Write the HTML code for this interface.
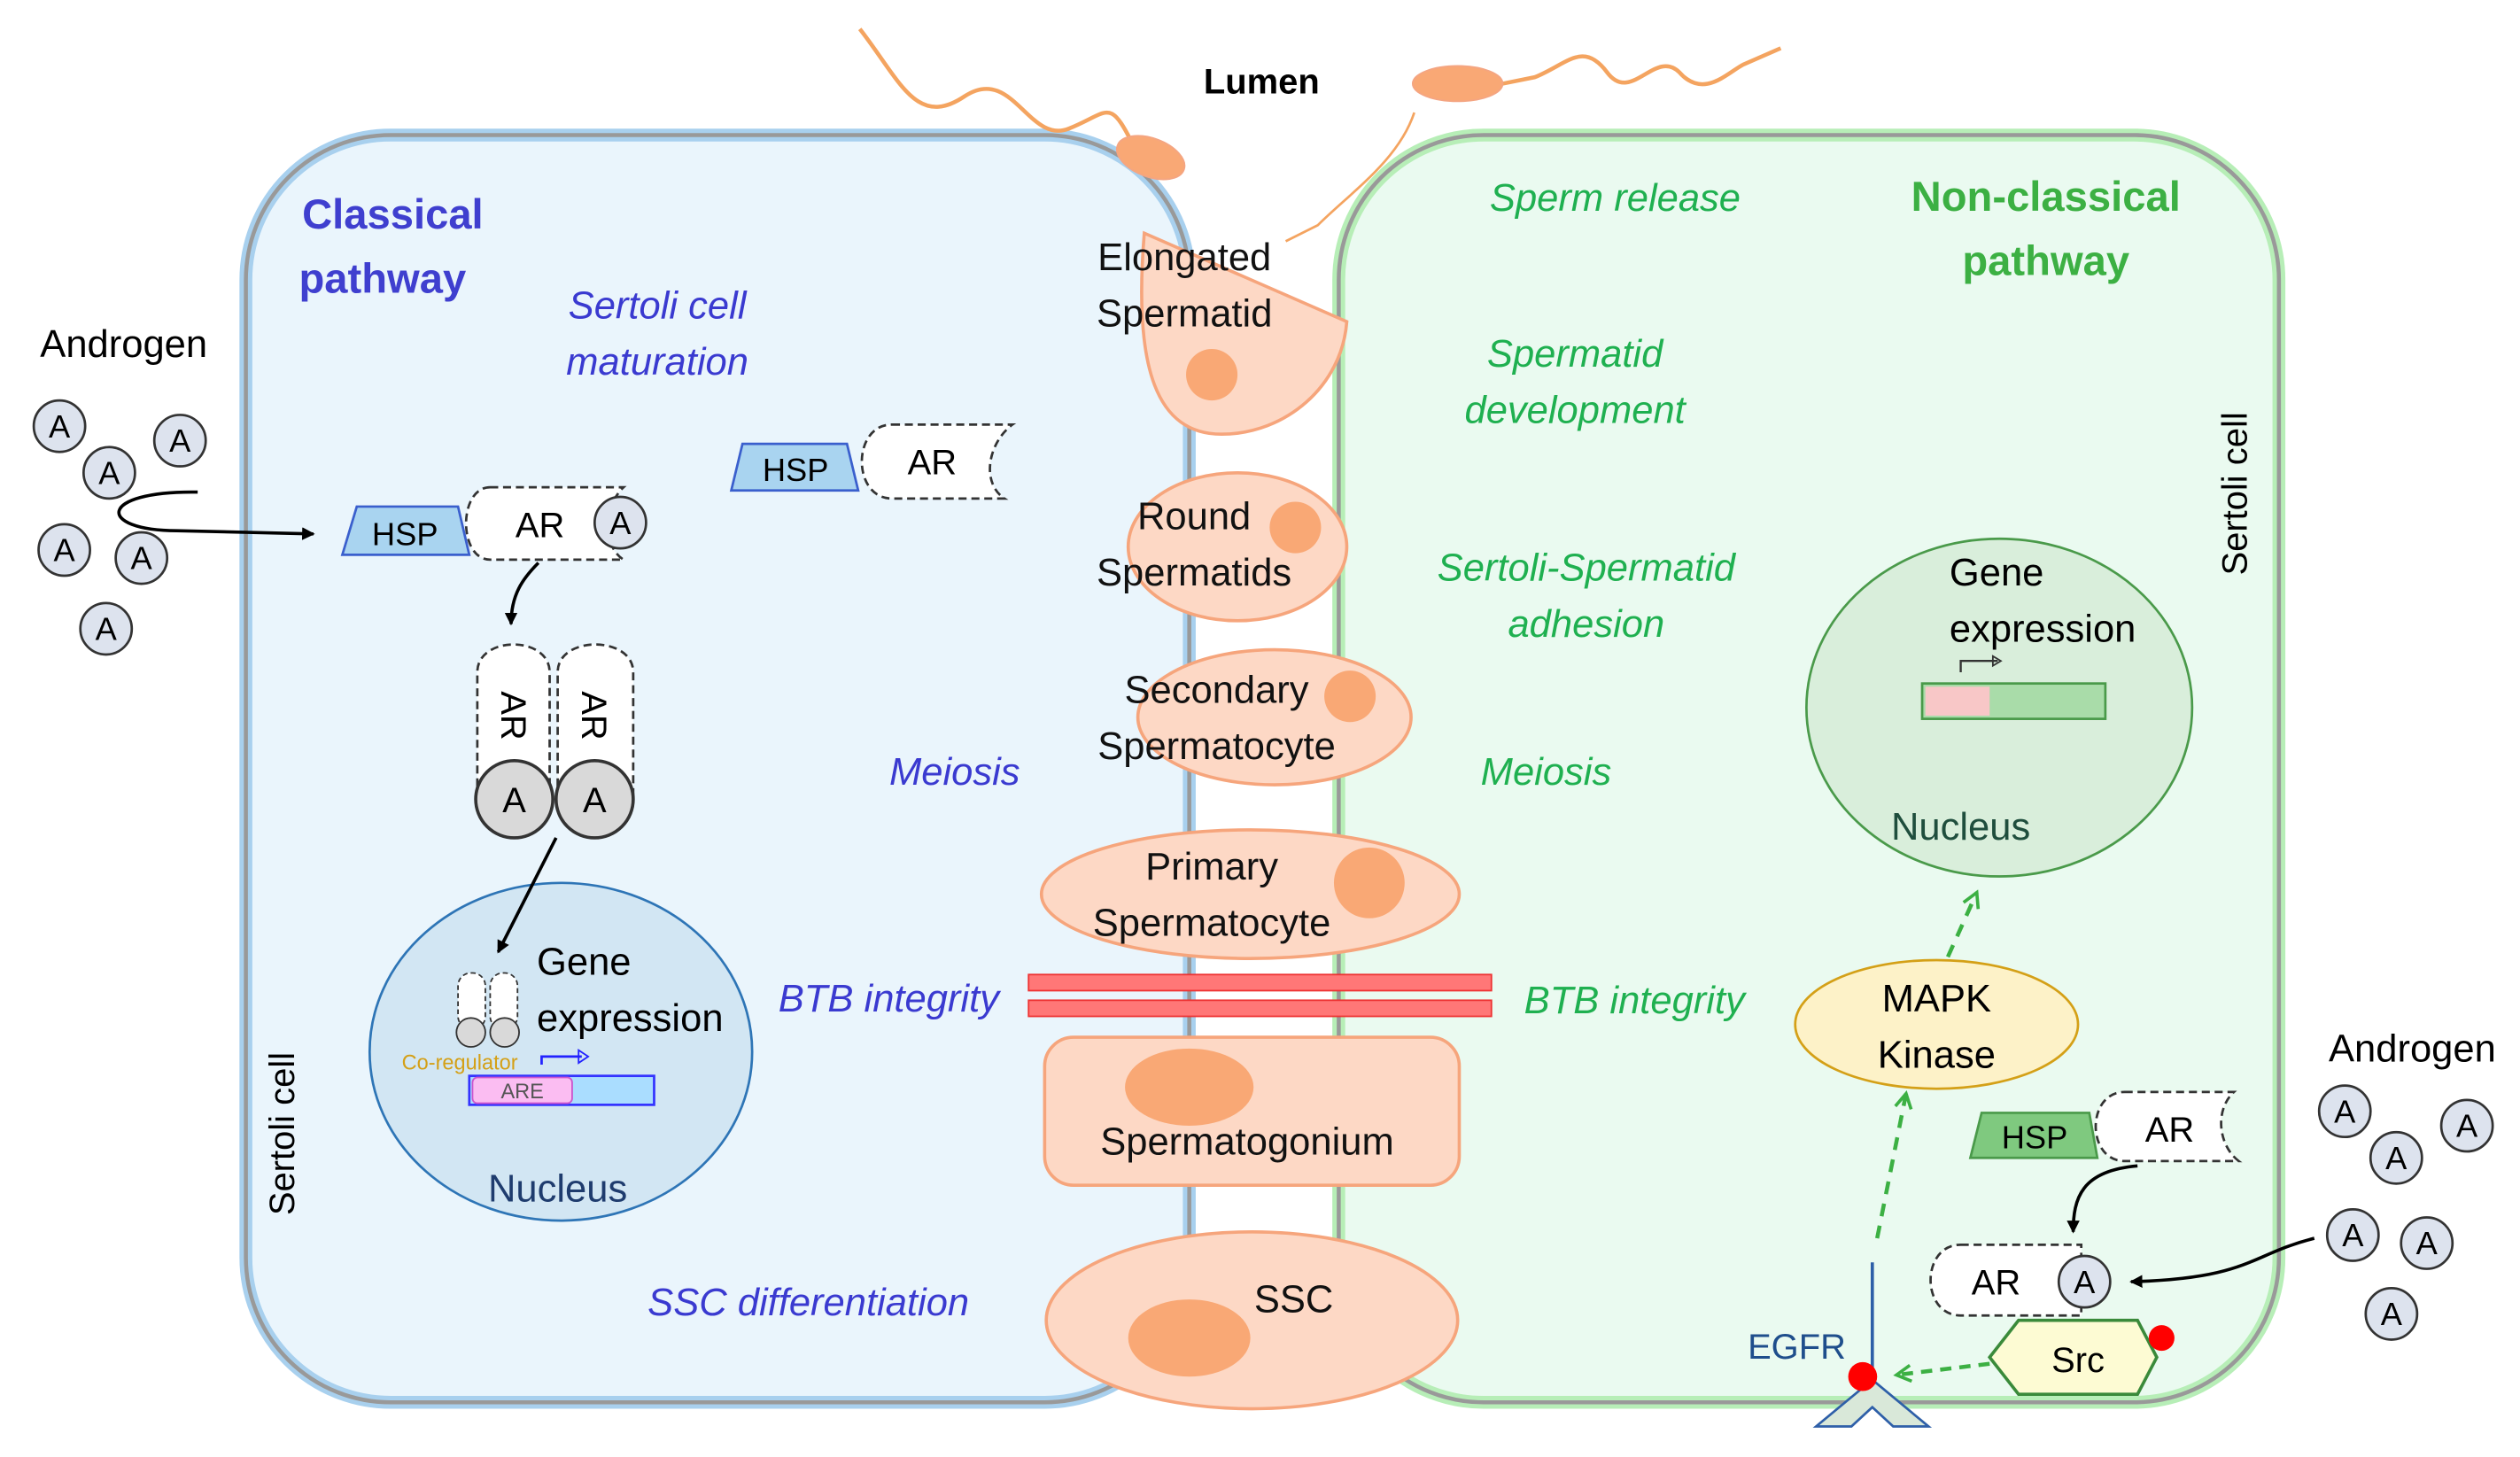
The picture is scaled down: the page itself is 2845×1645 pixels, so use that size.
<!DOCTYPE html>
<html><head><meta charset="utf-8"><style>
html,body{margin:0;padding:0;background:#fff;}
svg{display:block;}
text{font-family:"Liberation Sans",sans-serif;}
</style></head><body>
<svg width="2845" height="1645" viewBox="0 0 1568 906" preserveAspectRatio="none" xmlns="http://www.w3.org/2000/svg">
<defs>
<marker id="ab" markerWidth="8" markerHeight="8" refX="7" refY="4" orient="auto" markerUnits="userSpaceOnUse"><path d="M0,0 L8,4 L0,8 Z" fill="#000"/></marker>
<marker id="ag" markerWidth="12" markerHeight="12" refX="10" refY="6" orient="auto" markerUnits="userSpaceOnUse"><path d="M1,1 L10,6 L1,11" fill="none" stroke="#3cb043" stroke-width="2"/></marker>
</defs>
<rect width="1568" height="906" fill="#fff"/>
<!-- cells -->
<rect x="153" y="84" width="587" height="788" rx="90" fill="#eaf5fc" stroke="#a8d0ee" stroke-width="8"/>
<rect x="153" y="84" width="587" height="788" rx="90" fill="none" stroke="#999" stroke-width="2.5"/>
<rect x="833" y="84" width="585" height="788" rx="90" fill="#eafaf0" stroke="#b7eeb7" stroke-width="8"/>
<rect x="833" y="84" width="585" height="788" rx="90" fill="none" stroke="#999" stroke-width="2.5"/>

<!-- sperm tails -->
<path d="M535,18 C560,50 570,80 600,60 C630,40 640,90 665,80 C690,70 690,60 705,90" fill="none" stroke="#f4a460" stroke-width="2.5"/>
<ellipse cx="716" cy="98" rx="22" ry="12" fill="#f9a875" stroke="#f4a582" transform="rotate(20 716 98)"/>
<path d="M935,52 L955,48 C975,40 985,25 1000,45 C1015,65 1030,30 1045,45 C1060,62 1075,45 1085,40 L1108,30" fill="none" stroke="#f4a460" stroke-width="2.5"/>
<ellipse cx="907" cy="52" rx="28" ry="11" fill="#f9a875" stroke="#f4a582"/>
<path d="M880,70 C870,100 840,120 820,140 L800,150" fill="none" stroke="#f4a460" stroke-width="1.5"/>
<text x="785" y="58" font-size="22" font-weight="bold" text-anchor="middle">Lumen</text>

<!-- germ cells -->
<g fill="#fdd8c5" stroke="#f6a57c" stroke-width="2">
<path d="M712,145 L838,200 C835,240 800,270 760,270 C720,270 705,230 712,145 Z"/>
<ellipse cx="770" cy="340" rx="68" ry="46"/>
<ellipse cx="793" cy="446" rx="85" ry="42"/>
<ellipse cx="778" cy="556" rx="130" ry="40"/>
<rect x="650" y="645" width="258" height="92" rx="18"/>
<ellipse cx="779" cy="821" rx="128" ry="55"/>
</g>
<g fill="#f9a875">
<circle cx="754" cy="233" r="16"/><circle cx="806" cy="328" r="16"/><circle cx="840" cy="433" r="16"/>
<circle cx="852" cy="549" r="22"/><ellipse cx="740" cy="676" rx="40" ry="24"/><ellipse cx="740" cy="832" rx="38" ry="24"/>
</g>
<g font-size="24" text-anchor="middle" fill="#111">
<text x="737" y="168">Elongated</text><text x="737" y="203">Spermatid</text>
<text x="743" y="329">Round</text><text x="743" y="364">Spermatids</text>
<text x="757" y="437">Secondary</text><text x="757" y="472">Spermatocyte</text>
<text x="754" y="547">Primary</text><text x="754" y="582">Spermatocyte</text>
<text x="776" y="718">Spermatogonium</text>
<text x="805" y="816">SSC</text>
</g>
<!-- BTB bars -->
<rect x="640" y="606" width="288" height="10" fill="#f77" stroke="#e33"/>
<rect x="640" y="622" width="288" height="10" fill="#f77" stroke="#e33"/>

<!-- left labels -->
<g fill="#3f3fcf" font-size="26" font-weight="bold"><text x="188" y="142">Classical</text><text x="186" y="182">pathway</text></g>
<g fill="#3a3ad0" font-size="24" font-style="italic" text-anchor="middle">
<text x="409" y="198">Sertoli cell</text><text x="409" y="233">maturation</text>
<text x="594" y="488">Meiosis</text>
<text x="553" y="629">BTB integrity</text>
<text x="503" y="818">SSC differentiation</text>
</g>
<text transform="translate(183,705) rotate(-90)" font-size="22" text-anchor="middle">Sertoli cell</text>

<!-- right labels -->
<g fill="#3cb043" font-size="26" font-weight="bold" text-anchor="middle"><text x="1273" y="131">Non-classical</text><text x="1273" y="171">pathway</text></g>
<g fill="#1fb050" font-size="24" font-style="italic" text-anchor="middle">
<text x="1005" y="131">Sperm release</text>
<text x="980" y="228">Spermatid</text><text x="980" y="263">development</text>
<text x="987" y="361">Sertoli-Spermatid</text><text x="987" y="396">adhesion</text>
<text x="962" y="488">Meiosis</text>
<text x="1017" y="630">BTB integrity</text>
</g>
<text transform="translate(1398,307) rotate(-90)" font-size="22" text-anchor="middle">Sertoli cell</text>

<!-- Androgen left -->
<text x="77" y="222" font-size="24" text-anchor="middle">Androgen</text>
<g fill="#dde3ee" stroke="#333" stroke-width="1.5">
<circle cx="37" cy="265" r="16"/><circle cx="68" cy="294" r="16"/><circle cx="112" cy="274" r="16"/>
<circle cx="40" cy="342" r="16"/><circle cx="88" cy="347" r="16"/><circle cx="66" cy="391" r="16"/>
</g>
<g font-size="20" text-anchor="middle"><text x="37" y="272">A</text><text x="68" y="301">A</text><text x="112" y="281">A</text><text x="40" y="349">A</text><text x="88" y="354">A</text><text x="66" y="398">A</text></g>
<path d="M123,306 C60,305 60,330 110,330 L195,332" fill="none" stroke="#000" stroke-width="2" marker-end="url(#ab)"/>

<!-- HSP AR complexes left -->
<polygon points="222,315 285,315 292,345 213,345" fill="#a9d4f0" stroke="#3a5fcd" stroke-width="1.5"/>
<text x="252" y="339" font-size="20" text-anchor="middle">HSP</text>
<path d="M305,303 L388,303 C375,315 375,340 388,348 L305,348 C285,348 285,303 305,303 Z" fill="#fff" stroke="#333" stroke-dasharray="5,3" stroke-width="1.5"/>
<text x="336" y="334" font-size="22" text-anchor="middle">AR</text>
<circle cx="386" cy="325" r="16" fill="#dde3ee" stroke="#333" stroke-width="1.5"/><text x="386" y="332" font-size="20" text-anchor="middle">A</text>

<polygon points="462,276 527,276 534,305 455,305" fill="#a9d4f0" stroke="#3a5fcd" stroke-width="1.5"/>
<text x="495" y="299" font-size="20" text-anchor="middle">HSP</text>
<path d="M555,264 L630,264 C615,275 610,300 625,310 L555,310 C530,310 530,264 555,264 Z" fill="#fff" stroke="#333" stroke-dasharray="5,3" stroke-width="1.5"/>
<text x="580" y="295" font-size="22" text-anchor="middle">AR</text>

<path d="M335,350 C325,360 318,370 318,388" fill="none" stroke="#000" stroke-width="2" marker-end="url(#ab)"/>
<!-- dimer -->
<g fill="#fff" stroke="#333" stroke-dasharray="5,3" stroke-width="1.5">
<path d="M297,497 L297,418 C297,395 342,395 342,418 L342,497 Z"/>
<path d="M347,497 L347,418 C347,395 394,395 394,418 L394,497 Z"/>
</g>
<text transform="translate(312,445) rotate(90)" font-size="22" text-anchor="middle">AR</text>
<text transform="translate(362,445) rotate(90)" font-size="22" text-anchor="middle">AR</text>
<circle cx="320" cy="497" r="24" fill="#d9d9d9" stroke="#333" stroke-width="2"/><circle cx="370" cy="497" r="24" fill="#d9d9d9" stroke="#333" stroke-width="2"/>
<text x="320" y="505" font-size="22" text-anchor="middle">A</text><text x="370" y="505" font-size="22" text-anchor="middle">A</text>

<!-- left nucleus -->
<ellipse cx="349" cy="654" rx="119" ry="105" fill="#d2e6f3" stroke="#2e75b6" stroke-width="1.5"/>
<path d="M346,521 L310,592" stroke="#000" stroke-width="2" marker-end="url(#ab)"/>
<g fill="#fff" stroke="#333" stroke-dasharray="3,2" stroke-width="1"><rect x="285" y="605" width="17" height="35" rx="8"/><rect x="305" y="605" width="17" height="35" rx="8"/></g>
<circle cx="293" cy="642" r="9" fill="#d9d9d9" stroke="#333"/><circle cx="314" cy="642" r="9" fill="#d9d9d9" stroke="#333"/>
<text x="334" y="606" font-size="24">Gene</text><text x="334" y="641" font-size="24">expression</text>
<text x="250" y="665" font-size="13" fill="#d4a017">Co-regulator</text>
<path d="M337,662 L337,657 L362,657" fill="none" stroke="#22f" stroke-width="1.5"/><path d="M360,653 L366,657 L360,661Z" fill="none" stroke="#22f"/>
<rect x="292" y="669" width="115" height="18" fill="#adf" stroke="#33f" stroke-width="1.5"/>
<rect x="294" y="670" width="62" height="16" rx="3" fill="#fbbdf2" stroke="#c5c"/>
<text x="325" y="683" font-size="13" text-anchor="middle" fill="#555">ARE</text>
<text x="347" y="747" font-size="24" text-anchor="middle" fill="#1f3c6e">Nucleus</text>

<!-- right nucleus -->
<ellipse cx="1244" cy="440" rx="120" ry="105" fill="#d9eedb" stroke="#4a9a4a" stroke-width="1.5"/>
<text x="1213" y="364" font-size="24">Gene</text><text x="1213" y="399" font-size="24">expression</text>
<path d="M1220,418 L1220,411 L1243,411" fill="none" stroke="#333" stroke-width="1.3"/><path d="M1240,408 L1245,411 L1240,414Z" fill="none" stroke="#333"/>
<rect x="1196" y="425" width="114" height="22" fill="#a9dca9" stroke="#4a9a4a" stroke-width="1.5"/>
<rect x="1198" y="427" width="40" height="18" fill="#f8c7c7"/>
<text x="1220" y="522" font-size="24" text-anchor="middle" fill="#1f4e3d">Nucleus</text>

<!-- MAPK -->
<ellipse cx="1205" cy="637" rx="88" ry="40" fill="#fdf2c8" stroke="#d4a017" stroke-width="1.5"/>
<text x="1205" y="629" font-size="24" text-anchor="middle">MAPK</text><text x="1205" y="664" font-size="24" text-anchor="middle">Kinase</text>
<path d="M1212,595 L1230,555" stroke="#3cb043" stroke-width="2.5" stroke-dasharray="8,6" fill="none" marker-end="url(#ag)"/>
<path d="M1168,770 L1186,680" stroke="#3cb043" stroke-width="2.5" stroke-dasharray="8,6" fill="none" marker-end="url(#ag)"/>

<!-- right androgen complexes -->
<polygon points="1233,692 1300,692 1305,720 1226,720" fill="#7fc97f" stroke="#4a9a4a" stroke-width="1.5"/>
<text x="1266" y="714" font-size="20" text-anchor="middle">HSP</text>
<path d="M1322,679 L1390,679 C1378,690 1380,712 1393,722 L1322,722 C1298,722 1298,679 1322,679 Z" fill="#fff" stroke="#333" stroke-dasharray="5,3" stroke-width="1.5"/>
<text x="1350" y="710" font-size="22" text-anchor="middle">AR</text>
<path d="M1330,725 C1295,728 1290,745 1290,766" fill="none" stroke="#000" stroke-width="2" marker-end="url(#ab)"/>
<path d="M1220,774 L1295,774 L1295,818 L1220,818 C1195,818 1195,774 1220,774 Z" fill="#fff" stroke="#333" stroke-dasharray="5,3" stroke-width="1.5"/>
<text x="1242" y="805" font-size="22" text-anchor="middle">AR</text>
<circle cx="1297" cy="797" r="16" fill="#dde3ee" stroke="#333" stroke-width="1.5"/><text x="1297" y="804" font-size="20" text-anchor="middle">A</text>
<path d="M1440,770 C1400,780 1400,795 1326,797" fill="none" stroke="#000" stroke-width="2" marker-end="url(#ab)"/>
<text x="1501" y="660" font-size="24" text-anchor="middle">Androgen</text>
<g fill="#dde3ee" stroke="#333" stroke-width="1.5">
<circle cx="1459" cy="691" r="16"/><circle cx="1491" cy="720" r="16"/><circle cx="1535" cy="700" r="16"/>
<circle cx="1464" cy="768" r="16"/><circle cx="1510" cy="773" r="16"/><circle cx="1488" cy="817" r="16"/>
</g>
<g font-size="20" text-anchor="middle"><text x="1459" y="698">A</text><text x="1491" y="727">A</text><text x="1535" y="707">A</text><text x="1464" y="775">A</text><text x="1510" y="780">A</text><text x="1488" y="824">A</text></g>

<!-- Src -->
<polygon points="1238,844 1256,821 1330,821 1342,844 1330,867 1256,867" fill="#fdfbd3" stroke="#3a8a3a" stroke-width="2"/>
<text x="1293" y="853" font-size="22" text-anchor="middle">Src</text>
<circle cx="1345" cy="832" r="8" fill="#f00"/>
<path d="M1238,848 L1180,855" stroke="#3cb043" stroke-width="2.5" stroke-dasharray="7,5" fill="none" marker-end="url(#ag)"/>
<!-- EGFR -->
<line x1="1165" y1="785" x2="1165" y2="858" stroke="#2e5fa8" stroke-width="2"/>
<polygon points="1165,858 1200,887 1178,887 1165,875 1152,887 1130,887" fill="#d9e8d9" stroke="#2e5fa8" stroke-width="1.5"/>
<circle cx="1159" cy="856" r="9" fill="#f00"/>
<text x="1118" y="845" font-size="22" text-anchor="middle" fill="#1f4e8c">EGFR</text>
</svg>
</body></html>
